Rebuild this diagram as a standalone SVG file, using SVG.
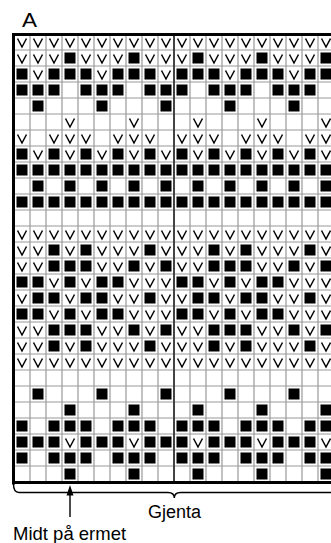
<svg xmlns="http://www.w3.org/2000/svg" xmlns:xlink="http://www.w3.org/1999/xlink" width="331" height="543" viewBox="0 0 331 543">
<style>
.t{font-family:"Liberation Sans",Arial,sans-serif;fill:#000}
.gl{stroke:#999;stroke-width:1.2;fill:none}
.ml{stroke:#444;stroke-width:2;fill:none}
.bd{stroke:#000;stroke-width:3;fill:none}
.br{stroke:#000;stroke-width:1.4;fill:none}
</style>
<defs>
<path id="v" d="M3.5,4.5 L8,13 L12.5,4.5" fill="none" stroke="#000" stroke-width="1.5"/>
<rect id="b" x="2.5" y="2.5" width="11" height="11" fill="#000"/>
</defs>
<rect width="331" height="543" fill="#fff"/>
<text id="title" class="t" x="22" y="27" font-size="20" textLength="15" lengthAdjust="spacingAndGlyphs">A</text>
<g id="grid">
<path class="gl" d="M30 34V482M46 34V482M62 34V482M78 34V482M94 34V482M110 34V482M126 34V482M142 34V482M158 34V482M190 34V482M206 34V482M222 34V482M238 34V482M254 34V482M270 34V482M286 34V482M302 34V482M318 34V482"/>
<path class="gl" d="M14 50H331M14 66H331M14 82H331M14 98H331M14 114H331M14 130H331M14 146H331M14 162H331M14 178H331M14 194H331M14 210H331M14 226H331M14 242H331M14 258H331M14 274H331M14 290H331M14 306H331M14 322H331M14 338H331M14 354H331M14 370H331M14 386H331M14 402H331M14 418H331M14 434H331M14 450H331M14 466H331"/>
<path class="ml" d="M174 34V482"/>
<path class="bd" d="M13.5 484.5V34.5H331M12 482.5H331"/>
</g>
<g id="cells" transform="translate(14,0)">
<g id="r1" transform="translate(0,34)"><use href="#v" x="0"/><use href="#v" x="16"/><use href="#v" x="32"/><use href="#v" x="48"/><use href="#v" x="64"/><use href="#v" x="80"/><use href="#v" x="96"/><use href="#v" x="112"/><use href="#v" x="128"/><use href="#v" x="144"/><use href="#v" x="160"/><use href="#v" x="176"/><use href="#v" x="192"/><use href="#v" x="208"/><use href="#v" x="224"/><use href="#v" x="240"/><use href="#v" x="256"/><use href="#v" x="272"/><use href="#v" x="288"/><use href="#v" x="304"/></g>
<g id="r2" transform="translate(0,50)"><use href="#v" x="0"/><use href="#v" x="16"/><use href="#v" x="32"/><use href="#b" x="48"/><use href="#v" x="64"/><use href="#v" x="80"/><use href="#v" x="96"/><use href="#b" x="112"/><use href="#v" x="128"/><use href="#v" x="144"/><use href="#v" x="160"/><use href="#b" x="176"/><use href="#v" x="192"/><use href="#v" x="208"/><use href="#v" x="224"/><use href="#b" x="240"/><use href="#v" x="256"/><use href="#v" x="272"/><use href="#v" x="288"/><use href="#b" x="304"/></g>
<g id="r3" transform="translate(0,66)"><use href="#b" x="0"/><use href="#v" x="16"/><use href="#b" x="32"/><use href="#b" x="48"/><use href="#b" x="64"/><use href="#v" x="80"/><use href="#b" x="96"/><use href="#b" x="112"/><use href="#b" x="128"/><use href="#v" x="144"/><use href="#b" x="160"/><use href="#b" x="176"/><use href="#b" x="192"/><use href="#v" x="208"/><use href="#b" x="224"/><use href="#b" x="240"/><use href="#b" x="256"/><use href="#v" x="272"/><use href="#b" x="288"/><use href="#b" x="304"/></g>
<g id="r4" transform="translate(0,82)"><use href="#b" x="0"/><use href="#b" x="16"/><use href="#b" x="32"/><use href="#b" x="64"/><use href="#b" x="80"/><use href="#b" x="96"/><use href="#b" x="128"/><use href="#b" x="144"/><use href="#b" x="160"/><use href="#b" x="192"/><use href="#b" x="208"/><use href="#b" x="224"/><use href="#b" x="256"/><use href="#b" x="272"/><use href="#b" x="288"/></g>
<g id="r5" transform="translate(0,98)"><use href="#b" x="16"/><use href="#b" x="80"/><use href="#b" x="144"/><use href="#b" x="208"/><use href="#b" x="272"/></g>
<g id="r6" transform="translate(0,114)"><use href="#v" x="48"/><use href="#v" x="112"/><use href="#v" x="176"/><use href="#v" x="240"/><use href="#v" x="304"/></g>
<g id="r7" transform="translate(0,130)"><use href="#v" x="0"/><use href="#v" x="32"/><use href="#v" x="48"/><use href="#v" x="64"/><use href="#v" x="96"/><use href="#v" x="112"/><use href="#v" x="128"/><use href="#v" x="160"/><use href="#v" x="176"/><use href="#v" x="192"/><use href="#v" x="224"/><use href="#v" x="240"/><use href="#v" x="256"/><use href="#v" x="288"/><use href="#v" x="304"/></g>
<g id="r8" transform="translate(0,146)"><use href="#b" x="0"/><use href="#v" x="16"/><use href="#b" x="32"/><use href="#v" x="48"/><use href="#b" x="64"/><use href="#v" x="80"/><use href="#b" x="96"/><use href="#v" x="112"/><use href="#b" x="128"/><use href="#v" x="144"/><use href="#b" x="160"/><use href="#v" x="176"/><use href="#b" x="192"/><use href="#v" x="208"/><use href="#b" x="224"/><use href="#v" x="240"/><use href="#b" x="256"/><use href="#v" x="272"/><use href="#b" x="288"/><use href="#v" x="304"/></g>
<g id="r9" transform="translate(0,162)"><use href="#b" x="0"/><use href="#b" x="16"/><use href="#b" x="32"/><use href="#b" x="48"/><use href="#b" x="64"/><use href="#b" x="80"/><use href="#b" x="96"/><use href="#b" x="112"/><use href="#b" x="128"/><use href="#b" x="144"/><use href="#b" x="160"/><use href="#b" x="176"/><use href="#b" x="192"/><use href="#b" x="208"/><use href="#b" x="224"/><use href="#b" x="240"/><use href="#b" x="256"/><use href="#b" x="272"/><use href="#b" x="288"/><use href="#b" x="304"/></g>
<g id="r10" transform="translate(0,178)"><use href="#b" x="16"/><use href="#b" x="48"/><use href="#b" x="80"/><use href="#b" x="112"/><use href="#b" x="144"/><use href="#b" x="176"/><use href="#b" x="208"/><use href="#b" x="240"/><use href="#b" x="272"/><use href="#b" x="304"/></g>
<use id="r11" href="#r9" y="32"/>
<use id="r13" href="#r1" y="192"/>
<g id="r14" transform="translate(0,242)"><use href="#v" x="0"/><use href="#v" x="16"/><use href="#b" x="32"/><use href="#v" x="48"/><use href="#b" x="64"/><use href="#v" x="80"/><use href="#v" x="96"/><use href="#v" x="112"/><use href="#b" x="128"/><use href="#v" x="144"/><use href="#v" x="160"/><use href="#v" x="176"/><use href="#b" x="192"/><use href="#v" x="208"/><use href="#b" x="224"/><use href="#v" x="240"/><use href="#v" x="256"/><use href="#v" x="272"/><use href="#b" x="288"/><use href="#v" x="304"/></g>
<g id="r15" transform="translate(0,258)"><use href="#v" x="0"/><use href="#v" x="16"/><use href="#b" x="32"/><use href="#b" x="48"/><use href="#b" x="64"/><use href="#v" x="80"/><use href="#v" x="96"/><use href="#b" x="112"/><use href="#v" x="128"/><use href="#b" x="144"/><use href="#v" x="160"/><use href="#v" x="176"/><use href="#b" x="192"/><use href="#b" x="208"/><use href="#b" x="224"/><use href="#v" x="240"/><use href="#v" x="256"/><use href="#b" x="272"/><use href="#v" x="288"/><use href="#b" x="304"/></g>
<g id="r16" transform="translate(0,274)"><use href="#b" x="0"/><use href="#b" x="16"/><use href="#v" x="32"/><use href="#b" x="48"/><use href="#v" x="64"/><use href="#b" x="80"/><use href="#b" x="96"/><use href="#v" x="112"/><use href="#v" x="128"/><use href="#v" x="144"/><use href="#b" x="160"/><use href="#b" x="176"/><use href="#v" x="192"/><use href="#b" x="208"/><use href="#v" x="224"/><use href="#b" x="240"/><use href="#b" x="256"/><use href="#v" x="272"/><use href="#v" x="288"/><use href="#v" x="304"/></g>
<g id="r17" transform="translate(0,290)"><use href="#v" x="0"/><use href="#b" x="16"/><use href="#b" x="32"/><use href="#v" x="48"/><use href="#b" x="64"/><use href="#b" x="80"/><use href="#v" x="96"/><use href="#v" x="112"/><use href="#b" x="128"/><use href="#v" x="144"/><use href="#v" x="160"/><use href="#b" x="176"/><use href="#b" x="192"/><use href="#v" x="208"/><use href="#b" x="224"/><use href="#b" x="240"/><use href="#v" x="256"/><use href="#v" x="272"/><use href="#b" x="288"/><use href="#v" x="304"/></g>
<use id="r18" href="#r16" y="32"/>
<use id="r19" href="#r15" y="64"/>
<use id="r20" href="#r14" y="96"/>
<use id="r21" href="#r1" y="320"/>
<use id="r23" href="#r5" y="288"/>
<g id="r24" transform="translate(0,402)"><use href="#b" x="48"/><use href="#b" x="112"/><use href="#b" x="176"/><use href="#b" x="240"/><use href="#b" x="304"/></g>
<g id="r25" transform="translate(0,418)"><use href="#b" x="0"/><use href="#b" x="32"/><use href="#b" x="48"/><use href="#b" x="64"/><use href="#b" x="96"/><use href="#b" x="112"/><use href="#b" x="128"/><use href="#b" x="160"/><use href="#b" x="176"/><use href="#b" x="192"/><use href="#b" x="224"/><use href="#b" x="240"/><use href="#b" x="256"/><use href="#b" x="288"/><use href="#b" x="304"/></g>
<g id="r26" transform="translate(0,434)"><use href="#b" x="0"/><use href="#b" x="16"/><use href="#b" x="32"/><use href="#v" x="48"/><use href="#b" x="64"/><use href="#b" x="80"/><use href="#b" x="96"/><use href="#v" x="112"/><use href="#b" x="128"/><use href="#b" x="144"/><use href="#b" x="160"/><use href="#v" x="176"/><use href="#b" x="192"/><use href="#b" x="208"/><use href="#b" x="224"/><use href="#v" x="240"/><use href="#b" x="256"/><use href="#b" x="272"/><use href="#b" x="288"/><use href="#v" x="304"/></g>
<use id="r27" href="#r25" y="32"/>
<use id="r28" href="#r24" y="64"/>
</g>
<g id="connectors">
<path id="repeat-brace" class="br" d="M13.5 484C13.5 489 15 492.5 19 492.5H168C172 492.5 174.3 494 174.3 498C174.3 494 176.5 492.5 180.5 492.5H331"/>
<path id="center-arrow" class="br" d="M70 494V517"/>
<polygon points="70,485 66.5,495.5 73.5,495.5" fill="#000"/>
</g>
<text id="repeat-label" class="t" x="148" y="518" font-size="18">Gjenta</text>
<text id="center-label" class="t" x="13" y="540" font-size="18.5">Midt på ermet</text>
</svg>
